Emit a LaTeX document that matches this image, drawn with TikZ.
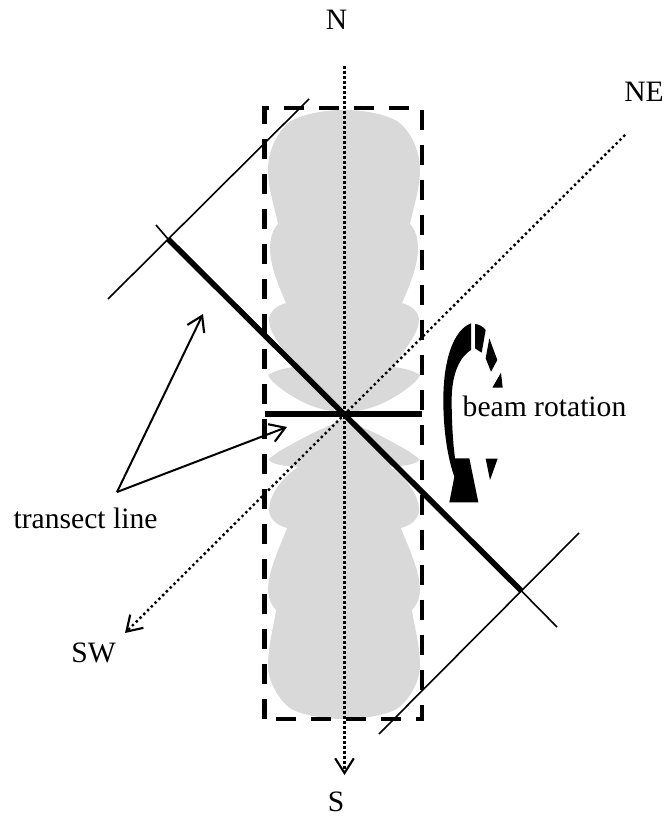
\documentclass[tikz,border=0pt]{standalone}
\usepackage{fontspec}
\setmainfont{Liberation Serif}
\usetikzlibrary{arrows.meta}

\tikzset{
  lobe/.style={fill=black!15,draw=none},
  boxline/.style={line width=3.7pt,dash pattern=on 15pt off 11.25pt},
  transect/.style={line width=4.2pt},
  thinline/.style={line width=1.2pt},
  compassns/.style={line width=2.3pt,dash pattern=on 2pt off 1.75pt},
  compassew/.style={line width=1.8pt,dash pattern=on 1.8pt off 2.2pt},
  openarrow/.style={-{Straight Barb[length=11pt,width=14pt,line width=1.6pt]}},
  lbl/.style={font=\fontsize{22.2}{26}\selectfont,inner sep=0pt,anchor=base}
}

\begin{document}
\begin{tikzpicture}[x=0.75pt,y=-0.75pt]
  \useasboundingbox (0,0) rectangle (667,816);
  % beam lobes, right half then mirrored
  \foreach \s in {1,-1}{
    \begin{scope}[shift={(344,0)},xscale=\s]
      \fill[lobe] (0,110) .. controls (20,110) and (40,114) .. (53,121)
        .. controls (66,130) and (76,150) .. (76,170)
        .. controls (76,188) and (70,205) .. (66,224)
        .. controls (72,230) and (74,240) .. (74,248)
        .. controls (74,265) and (66,285) .. (58,303)
        .. controls (68,306) and (75,312) .. (75,320)
        .. controls (75,332) and (62,348) .. (49,367)
        .. controls (60,368) and (70,371) .. (76,375)
        .. controls (72,385) and (45,402) .. (29,407)
        .. controls (20,410) and (10,412) .. (0,413)
        -- (0,418) .. controls (10,424) and (25,430) .. (35,435)
        .. controls (50,443) and (68,452) .. (75,459)
        .. controls (75,464) and (60,466) .. (46,467)
        .. controls (60,476) and (75,494) .. (75,510)
        .. controls (75,520) and (65,526) .. (57,528)
        .. controls (62,542) and (76,570) .. (76,590)
        .. controls (76,598) and (72,606) .. (68,610)
        .. controls (70,625) and (76,645) .. (76,667)
        .. controls (76,680) and (65,702) .. (51,710)
        .. controls (40,715) and (20,719) .. (0,719) -- cycle;
    \end{scope}
  }
  % box around beam
  \coordinate (bl) at (264.7,719);
  \coordinate (tl) at (264.7,108);
  \coordinate (tr) at (422,108);
  \coordinate (br) at (422,719);
  \draw[boxline] (bl) -- (tl) -- (tr) -- (br) -- cycle;
  % compass lines
  \coordinate (north) at (344.5,66);
  \coordinate (south) at (344.5,775);
  \coordinate (northeast) at (625,135);
  \coordinate (southwest) at (125,633);
  \draw[compassns,openarrow] (north) -- (south);
  \draw[compassew,openarrow] (northeast) -- (southwest);
  % transects
  \coordinate (ta) at (168,239);
  \coordinate (tb) at (521.5,591);
  \coordinate (tc) at (265,414);
  \coordinate (td) at (422,414);
  \coordinate (te) at (156,225);
  \coordinate (tf) at (557,627);
  \draw[transect] (ta) -- (tb);
  \draw[transect] (tc) -- (td);
  \draw[thinline] (te) -- (ta);
  \draw[thinline] (tb) -- (tf);
  \draw[thinline] (108,299) -- (309,99);
  \draw[thinline] (379,734) -- (579,533);
  % labels
  \node[lbl] (nlabel) at (336.5,30) {N};
  \node[lbl] (nelabel) at (644,102) {NE};
  \node[lbl] (swlabel) at (93.5,662) {SW};
  \node[lbl] (slabel) at (336,811) {S};
  \node[lbl] (translabel) at (85.5,528) {transect line};
  \node[lbl] (beamlabel) at (544.5,416) {beam rotation};
  \coordinate (tfoot) at (117,492);
  \coordinate (t1) at (203,314);
  \coordinate (t2) at (287,427);
  \draw[openarrow,line width=1.5pt] (tfoot) -- (t1);
  \draw[openarrow,line width=1.5pt] (tfoot) -- (t2);
  % rotation arrow
  \begin{scope}[shift={(420,300)},x=0.25pt,y=-0.25pt]
    \fill (153,70) .. controls (100,90) and (70,180) .. (70,300)
      .. controls (70,400) and (85,480) .. (103,530) -- (88,607) -- (175,607) -- (148,475) -- (105,475)
      .. controls (98,420) and (95,360) .. (95,300)
      .. controls (95,220) and (120,170) .. (153,150) -- cycle;
    \fill (165,72) .. controls (175,72) and (190,80) .. (197,90) -- (185,158) -- (165,145) -- cycle;
    \fill (208,115) -- (232,180) -- (213,215) -- (197,175) -- cycle;
    \fill (243,218) -- (248,263) -- (217,263) -- cycle;
    \fill (197,476) -- (233,476) -- (210,540) -- cycle;
  \end{scope}
\end{tikzpicture}
\end{document}
